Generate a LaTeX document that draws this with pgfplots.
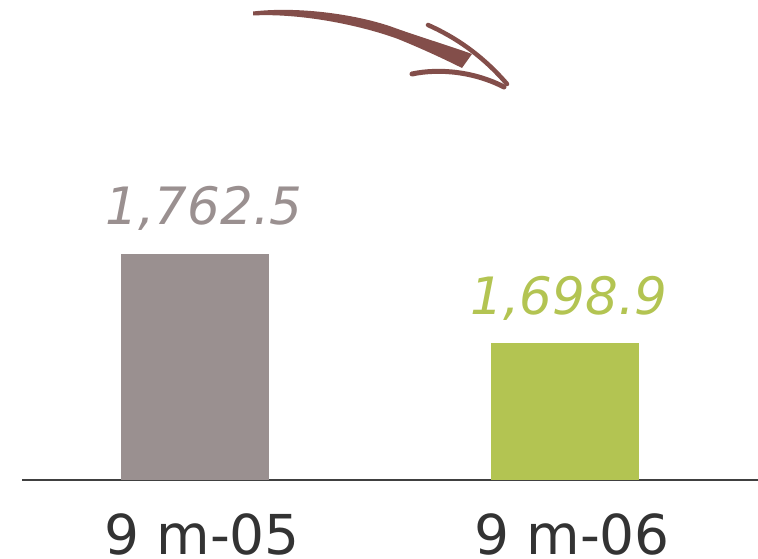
\documentclass[border=0pt]{standalone}
\usepackage{fontspec}
\setmainfont{DejaVu Sans}
\usepackage{pgfplots}
\pgfplotsset{compat=1.18}
\definecolor{bargray}{HTML}{9A9090}
\definecolor{bargreen}{HTML}{B3C452}
\definecolor{arrowred}{HTML}{834E4A}
\definecolor{txt}{HTML}{333333}
\definecolor{axln}{HTML}{404040}
\begin{document}
\begin{tikzpicture}[x=1pt,y=1pt]
\useasboundingbox (0,0) rectangle (758,559);
\begin{axis}[
  at={(22pt,79pt)}, anchor=south west,
  scale only axis, width=736pt, height=480pt,
  xmin=-0.4676, xmax=1.5216, ymin=1601, ymax=1944,
  axis x line=bottom, axis y line=none,
  x axis line style={-, draw=axln, line width=1.6pt},
  xtick={0,1}, xticklabels={9 m-05, 9 m-06},
  xtick style={draw=none}, ytick=\empty,
  xticklabel style={anchor=base, yshift=-72pt, xshift=7pt, inner sep=0pt, text depth=0pt, text=txt,
    font=\fontsize{55}{60}\selectfont},
  clip=false,
]
\addplot[ybar, bar width=0.4, bar shift=0pt, fill=bargray, draw=none,
  point meta=explicit symbolic, nodes near coords,
  every node near coord/.append style={anchor=base, yshift=29pt, xshift=9pt, inner sep=0pt,
    text=bargray, font=\fontsize{51.5}{56}\selectfont\itshape}]
  coordinates {(0,1762.5) [1,762.5]};
\addplot[ybar, bar width=0.4, bar shift=0pt, fill=bargreen, draw=none,
  point meta=explicit symbolic, nodes near coords,
  every node near coord/.append style={anchor=base, yshift=28.5pt, xshift=4pt, inner sep=0pt,
    text=bargreen, font=\fontsize{51.5}{56}\selectfont\itshape}]
  coordinates {(1,1698.9) [1,698.9]};
\end{axis}
\begin{scope}[shift={(0,559)}, x=1pt, y=-1pt]
  \fill[arrowred] (253,11.5) .. controls (300,6) and (360,15) .. (395,28)
     .. controls (420,37) and (450,46) .. (472,54)
     -- (462,68)
     .. controls (440,57) and (420,48) .. (398,39)
     .. controls (360,25) and (300,13) .. (253,15.5) -- cycle;
  \draw[arrowred, line width=4.5pt, line cap=round] (428,25) .. controls (455,37) and (482,55) .. (507,84);
  \draw[arrowred, line width=5pt, line cap=round] (412,74) .. controls (440,68) and (475,72) .. (504,87);
\end{scope}
\end{tikzpicture}
\end{document}
